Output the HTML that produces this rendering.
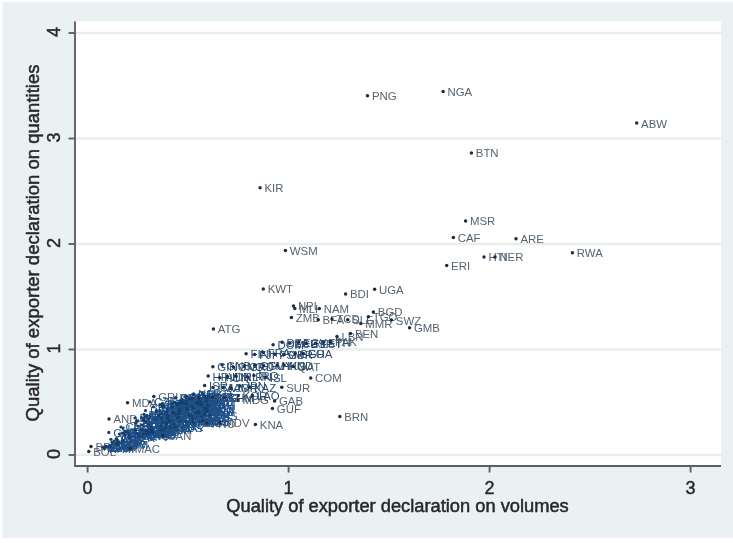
<!DOCTYPE html>
<html><head><meta charset="utf-8"><style>
html,body{margin:0;padding:0;background:#fff;}
svg{display:block;font-family:"Liberation Sans",sans-serif;filter:blur(0.55px);}
</style></head><body>
<svg width="733" height="543" viewBox="0 0 733 543">
<rect x="0" y="0" width="733" height="543" fill="#ffffff"/><rect x="2.5" y="2" width="730.5" height="536" fill="#e9f1f2"/><rect x="75" y="21.5" width="646" height="444.5" fill="#ffffff"/><line x1="75" x2="721" y1="455.0" y2="455.0" stroke="#e9eeed" stroke-width="2.4"/><line x1="75" x2="721" y1="349.5" y2="349.5" stroke="#e9eeed" stroke-width="2.4"/><line x1="75" x2="721" y1="244.0" y2="244.0" stroke="#e9eeed" stroke-width="2.4"/><line x1="75" x2="721" y1="138.5" y2="138.5" stroke="#e9eeed" stroke-width="2.4"/><line x1="75" x2="721" y1="33.0" y2="33.0" stroke="#e9eeed" stroke-width="2.4"/><line x1="75" x2="75" y1="21.5" y2="466.5" stroke="#5c6062" stroke-width="1.9"/><line x1="74.2" x2="721" y1="466" y2="466" stroke="#5c6062" stroke-width="1.9"/><line x1="68.5" x2="75" y1="455.0" y2="455.0" stroke="#5c6062" stroke-width="1.9"/><text x="60.3" y="454.1" transform="rotate(-90 60.3 454.1)" text-anchor="middle" font-size="18" fill="#2a2a2a" stroke="#2a2a2a" stroke-width="0.45">0</text><line x1="68.5" x2="75" y1="349.5" y2="349.5" stroke="#5c6062" stroke-width="1.9"/><text x="60.3" y="348.6" transform="rotate(-90 60.3 348.6)" text-anchor="middle" font-size="18" fill="#2a2a2a" stroke="#2a2a2a" stroke-width="0.45">1</text><line x1="68.5" x2="75" y1="244.0" y2="244.0" stroke="#5c6062" stroke-width="1.9"/><text x="60.3" y="243.1" transform="rotate(-90 60.3 243.1)" text-anchor="middle" font-size="18" fill="#2a2a2a" stroke="#2a2a2a" stroke-width="0.45">2</text><line x1="68.5" x2="75" y1="138.5" y2="138.5" stroke="#5c6062" stroke-width="1.9"/><text x="60.3" y="137.6" transform="rotate(-90 60.3 137.6)" text-anchor="middle" font-size="18" fill="#2a2a2a" stroke="#2a2a2a" stroke-width="0.45">3</text><line x1="68.5" x2="75" y1="33.0" y2="33.0" stroke="#5c6062" stroke-width="1.9"/><text x="60.3" y="32.1" transform="rotate(-90 60.3 32.1)" text-anchor="middle" font-size="18" fill="#2a2a2a" stroke="#2a2a2a" stroke-width="0.45">4</text><line x1="87.6" x2="87.6" y1="466" y2="472.5" stroke="#5c6062" stroke-width="1.9"/><text x="87.6" y="494.3" text-anchor="middle" font-size="18" fill="#2a2a2a" stroke="#2a2a2a" stroke-width="0.45">0</text><line x1="288.6" x2="288.6" y1="466" y2="472.5" stroke="#5c6062" stroke-width="1.9"/><text x="288.6" y="494.3" text-anchor="middle" font-size="18" fill="#2a2a2a" stroke="#2a2a2a" stroke-width="0.45">1</text><line x1="489.6" x2="489.6" y1="466" y2="472.5" stroke="#5c6062" stroke-width="1.9"/><text x="489.6" y="494.3" text-anchor="middle" font-size="18" fill="#2a2a2a" stroke="#2a2a2a" stroke-width="0.45">2</text><line x1="690.6" x2="690.6" y1="466" y2="472.5" stroke="#5c6062" stroke-width="1.9"/><text x="690.6" y="494.3" text-anchor="middle" font-size="18" fill="#2a2a2a" stroke="#2a2a2a" stroke-width="0.45">3</text><text x="397.5" y="511.8" text-anchor="middle" font-size="18.3" fill="#282828" stroke="#282828" stroke-width="0.5">Quality of exporter declaration on volumes</text><text x="39.3" y="243" transform="rotate(-90 39.3 243)" text-anchor="middle" font-size="18.5" fill="#282828" stroke="#282828" stroke-width="0.5">Quality of exporter declaration on quantities</text><g font-size="11.4" fill="#55636f"><text x="641.1" y="127.5">ABW</text><text x="371.9" y="100.2">PNG</text><text x="447.5" y="96.0">NGA</text><text x="475.8" y="157.4">BTN</text><text x="264.5" y="192.1">KIR</text><text x="289.8" y="254.9">WSM</text><text x="470.0" y="225.3">MSR</text><text x="457.7" y="242.0">CAF</text><text x="520.4" y="243.2">ARE</text><text x="576.8" y="257.2">RWA</text><text x="451.1" y="270.0">ERI</text><text x="488.4" y="261.3">HTI</text><text x="499.4" y="261.3">NER</text><text x="267.7" y="293.4">KWT</text><text x="350.0" y="298.3">BDI</text><text x="379.0" y="293.6">UGA</text><text x="297.9" y="310.3">NPL</text><text x="299.2" y="312.9">MLI</text><text x="323.7" y="312.9">NAM</text><text x="295.8" y="321.9">ZMB</text><text x="322.6" y="324.1">BFA</text><text x="336.4" y="323.4">TCD</text><text x="352.1" y="324.1">SLE</text><text x="365.2" y="327.8">MMR</text><text x="372.8" y="321.2">TGO</text><text x="377.8" y="316.4">BGD</text><text x="395.8" y="324.5">SWZ</text><text x="413.9" y="332.2">GMB</text><text x="217.8" y="333.3">ATG</text><text x="334.9" y="346.4">PAK</text><text x="341.4" y="340.9">LBN</text><text x="354.9" y="337.9">BEN</text><text x="344.2" y="421.0">BRN</text><text x="297.6" y="371.0">QAT</text><text x="315.1" y="382.3">COM</text><text x="286.2" y="391.7">SUR</text><text x="279.0" y="405.4">GAB</text><text x="276.8" y="412.9">GUF</text><text x="259.8" y="428.8">KNA</text><text x="224.2" y="426.9">MDV</text><text x="211.4" y="427.7">FRO</text><text x="242.4" y="404.4">MDG</text><text x="167.4" y="440.1">CAN</text><text x="134.7" y="453.0">MAC</text><text x="131.9" y="407.2">MDA</text><text x="158.2" y="400.8">GRL</text><text x="113.4" y="423.4">AND</text><text x="93.2" y="455.8">BOL</text><text x="95.4" y="450.8">BRB</text></g><g font-size="11.4" fill="#1f5088"><text x="152.0" y="438.5">AFG</text><text x="153.5" y="429.1">AGO</text><text x="121.5" y="445.1">ARG</text><text x="190.8" y="407.5">ARM</text><text x="179.5" y="431.6">AUS</text><text x="210.4" y="413.0">AUT</text><text x="118.4" y="445.6">AZE</text><text x="107.2" y="451.5">BEL</text><text x="159.6" y="423.9">BGR</text><text x="175.9" y="411.4">BHR</text><text x="214.1" y="419.6">BHS</text><text x="181.1" y="408.1">BIH</text><text x="133.4" y="441.9">BLR</text><text x="197.0" y="402.7">BLZ</text><text x="204.2" y="426.4">BMU</text><text x="145.7" y="434.0">BRN</text><text x="189.2" y="401.2">CHE</text><text x="186.8" y="406.9">CHL</text><text x="111.9" y="451.3">CHN</text><text x="120.7" y="443.2">CIV</text><text x="115.3" y="443.7">CMR</text><text x="148.4" y="424.2">COD</text><text x="211.1" y="402.4">COG</text><text x="201.3" y="407.6">COL</text><text x="197.8" y="399.0">CPV</text><text x="213.2" y="400.5">CRI</text><text x="188.5" y="407.9">CUB</text><text x="108.8" y="451.6">CYP</text><text x="128.1" y="437.5">CZE</text><text x="155.5" y="435.7">DEU</text><text x="121.2" y="449.0">DJI</text><text x="193.6" y="403.1">DMA</text><text x="184.7" y="406.0">DNK</text><text x="208.7" y="412.9">DOM</text><text x="148.4" y="418.7">DZA</text><text x="210.1" y="416.0">ECU</text><text x="168.4" y="411.2">EGY</text><text x="182.5" y="407.6">ESP</text><text x="170.4" y="432.1">EST</text><text x="123.7" y="438.4">ETH</text><text x="151.2" y="420.0">FIN</text><text x="142.4" y="425.3">FJI</text><text x="212.2" y="415.1">FRA</text><text x="167.0" y="407.7">FSM</text><text x="180.3" y="402.0">GBR</text><text x="172.9" y="425.8">GEO</text><text x="109.0" y="452.2">GHA</text><text x="203.0" y="417.4">GIN</text><text x="190.8" y="409.0">GNB</text><text x="178.5" y="428.5">GNQ</text><text x="148.0" y="438.4">GRD</text><text x="165.7" y="418.2">GTM</text><text x="166.8" y="409.1">GUY</text><text x="200.7" y="407.6">HKG</text><text x="184.2" y="413.7">HND</text><text x="196.0" y="420.4">HRV</text><text x="155.2" y="431.3">HUN</text><text x="157.1" y="436.6">IDN</text><text x="129.6" y="435.5">IRL</text><text x="177.7" y="407.4">IRN</text><text x="203.7" y="408.6">IRQ</text><text x="202.1" y="416.4">ISL</text><text x="123.0" y="446.8">ISR</text><text x="204.6" y="406.4">ITA</text><text x="166.9" y="410.7">JAM</text><text x="197.2" y="426.6">JOR</text><text x="132.0" y="436.9">JPN</text><text x="131.8" y="436.4">KAZ</text><text x="171.7" y="414.0">KEN</text><text x="196.1" y="410.8">KGZ</text><text x="108.9" y="452.8">KHM</text><text x="165.4" y="430.1">KOR</text><text x="152.3" y="436.0">LAO</text><text x="127.5" y="432.5">LBN</text><text x="172.1" y="423.1">LBY</text><text x="175.1" y="432.0">LCA</text><text x="178.4" y="416.5">LKA</text><text x="120.8" y="443.4">LSO</text><text x="181.8" y="409.2">LTU</text><text x="139.8" y="434.5">LUX</text><text x="170.4" y="416.8">LVA</text><text x="190.7" y="400.7">MAR</text><text x="206.7" y="397.5">MKD</text><text x="152.1" y="438.1">MLT</text><text x="143.4" y="440.4">MNG</text><text x="191.2" y="412.4">MOZ</text><text x="174.7" y="425.1">MRT</text><text x="193.7" y="419.8">MUS</text><text x="212.2" y="410.0">MWI</text><text x="190.5" y="426.6">MYS</text><text x="198.0" y="398.3">NCL</text><text x="150.7" y="435.0">NIC</text><text x="156.0" y="434.0">NLD</text><text x="120.1" y="447.8">NOR</text><text x="116.4" y="446.7">NZL</text><text x="182.9" y="421.7">OMN</text><text x="208.2" y="424.6">PER</text><text x="110.2" y="450.5">PHL</text><text x="133.5" y="439.5">POL</text><text x="164.2" y="418.7">PRT</text><text x="196.8" y="402.8">PRY</text><text x="197.4" y="412.8">PYF</text><text x="165.7" y="422.7">ROU</text><text x="157.8" y="411.2">RUS</text><text x="210.9" y="405.7">SAU</text><text x="191.7" y="413.1">SDN</text><text x="179.2" y="418.2">SEN</text><text x="205.7" y="409.2">SGP</text><text x="114.9" y="450.2">SLB</text><text x="203.1" y="404.6">SLV</text><text x="122.2" y="448.9">SOM</text><text x="126.3" y="437.6">SRB</text><text x="140.9" y="425.6">STP</text><text x="183.7" y="416.0">SVK</text><text x="129.0" y="439.7">SVN</text><text x="150.2" y="426.5">SWE</text><text x="160.7" y="415.0">SYC</text><text x="172.4" y="420.1">SYR</text><text x="197.4" y="423.6">THA</text><text x="126.9" y="445.2">TJK</text><text x="140.3" y="427.7">TKM</text><text x="166.9" y="426.5">TTO</text><text x="149.1" y="421.4">TUN</text><text x="155.6" y="432.5">TUR</text><text x="149.7" y="434.6">TZA</text><text x="185.8" y="405.3">UKR</text><text x="176.9" y="416.8">URY</text><text x="168.3" y="434.3">USA</text><text x="145.9" y="422.0">UZB</text><text x="205.2" y="407.7">VCT</text><text x="153.3" y="423.5">VUT</text><text x="164.9" y="434.3">YEM</text><text x="154.1" y="420.2">ZAF</text><text x="180.3" y="418.5">ZWE</text><text x="206.2" y="421.0">AFG</text><text x="164.3" y="414.9">AGO</text><text x="197.9" y="427.0">ARG</text><text x="141.5" y="438.0">ARM</text><text x="200.2" y="416.4">AUS</text><text x="154.7" y="433.9">AUT</text><text x="190.5" y="405.4">AZE</text><text x="184.3" y="408.1">BEL</text><text x="142.3" y="430.5">BGR</text><text x="162.8" y="420.5">BHR</text><text x="184.7" y="425.4">BHS</text><text x="206.7" y="425.1">BIH</text><text x="208.9" y="418.8">BLR</text><text x="160.8" y="415.5">BLZ</text><text x="183.1" y="417.7">BMU</text><text x="186.6" y="403.8">BRN</text><text x="152.9" y="437.5">CHE</text><text x="181.5" y="422.3">CHL</text><text x="146.1" y="429.4">CHN</text><text x="203.1" y="415.7">CIV</text><text x="208.8" y="400.6">CMR</text><text x="171.2" y="428.1">COD</text><text x="170.5" y="428.1">COG</text><text x="178.7" y="407.0">COL</text><text x="146.3" y="440.9">CPV</text><text x="147.8" y="424.1">CRI</text><text x="125.4" y="431.4">CUB</text><text x="113.2" y="436.8">CYP</text><text x="154.3" y="406.2">CZE</text><text x="149.9" y="415.0">DEU</text><text x="139.4" y="422.4">DJI</text><text x="164.4" y="409.4">DMA</text><text x="179.4" y="402.4">DNK</text></g><g font-size="11.4" fill="#2b4d72"><text x="277.5" y="349.1">DOM</text><text x="286.5" y="346.6">DZA</text><text x="294.2" y="347.6">ECU</text><text x="303.1" y="346.7">EGY</text><text x="310.5" y="347.6">ESP</text><text x="319.8" y="347.7">EST</text><text x="328.0" y="346.6">ETH</text><text x="250.5" y="358.1">FIN</text><text x="259.0" y="359.0">FJI</text><text x="267.7" y="357.0">FRA</text><text x="279.3" y="358.6">FSM</text><text x="288.2" y="358.7">GBR</text><text x="299.3" y="357.9">GEO</text><text x="307.7" y="357.9">GHA</text><text x="217.3" y="371.2">GIN</text><text x="226.5" y="369.5">GNB</text><text x="237.8" y="371.4">GNQ</text><text x="248.9" y="370.5">GRD</text><text x="259.6" y="369.7">GTM</text><text x="267.8" y="370.2">GUY</text><text x="281.5" y="369.8">HKG</text><text x="288.5" y="369.5">HND</text><text x="212.6" y="380.5">HRV</text><text x="224.2" y="382.2">HUN</text><text x="231.9" y="380.8">IDN</text><text x="240.6" y="380.6">IRL</text><text x="252.0" y="381.3">IRN</text><text x="258.3" y="380.0">IRQ</text><text x="269.8" y="381.8">ISL</text><text x="209.0" y="389.9">ISR</text><text x="217.4" y="392.0">ITA</text><text x="227.5" y="392.0">JAM</text><text x="235.1" y="392.1">JOR</text><text x="244.4" y="390.4">JPN</text><text x="254.0" y="391.6">KAZ</text><text x="203.3" y="401.8">KEN</text><text x="216.9" y="401.7">KGZ</text><text x="228.6" y="401.9">KHM</text><text x="242.6" y="399.9">KOR</text><text x="256.8" y="400.0">LAO</text></g><g fill="#222c3a"><circle cx="636.7" cy="123.1" r="1.75"/><circle cx="367.5" cy="95.8" r="1.75"/><circle cx="443.1" cy="91.6" r="1.75"/><circle cx="471.4" cy="153.0" r="1.75"/><circle cx="260.1" cy="187.7" r="1.75"/><circle cx="285.4" cy="250.5" r="1.75"/><circle cx="465.6" cy="220.9" r="1.75"/><circle cx="453.3" cy="237.6" r="1.75"/><circle cx="516.0" cy="238.8" r="1.75"/><circle cx="572.4" cy="252.8" r="1.75"/><circle cx="446.7" cy="265.6" r="1.75"/><circle cx="484.0" cy="256.9" r="1.75"/><circle cx="495.0" cy="256.9" r="1.75"/><circle cx="263.3" cy="289.0" r="1.75"/><circle cx="345.6" cy="293.9" r="1.75"/><circle cx="374.6" cy="289.2" r="1.75"/><circle cx="293.5" cy="305.9" r="1.75"/><circle cx="294.8" cy="308.5" r="1.75"/><circle cx="319.3" cy="308.5" r="1.75"/><circle cx="291.4" cy="317.5" r="1.75"/><circle cx="318.2" cy="319.7" r="1.75"/><circle cx="332.0" cy="319.0" r="1.75"/><circle cx="347.7" cy="319.7" r="1.75"/><circle cx="360.8" cy="323.4" r="1.75"/><circle cx="368.4" cy="316.8" r="1.75"/><circle cx="373.4" cy="312.0" r="1.75"/><circle cx="391.4" cy="320.1" r="1.75"/><circle cx="409.5" cy="327.8" r="1.75"/><circle cx="213.4" cy="328.9" r="1.75"/><circle cx="330.5" cy="342.0" r="1.75"/><circle cx="337.0" cy="336.5" r="1.75"/><circle cx="350.5" cy="333.5" r="1.75"/><circle cx="339.8" cy="416.6" r="1.75"/><circle cx="293.2" cy="366.6" r="1.75"/><circle cx="310.7" cy="377.9" r="1.75"/><circle cx="281.8" cy="387.3" r="1.75"/><circle cx="274.6" cy="401.0" r="1.75"/><circle cx="272.4" cy="408.5" r="1.75"/><circle cx="255.4" cy="424.4" r="1.75"/><circle cx="219.8" cy="422.5" r="1.75"/><circle cx="207.0" cy="423.3" r="1.75"/><circle cx="238.0" cy="400.0" r="1.75"/><circle cx="163.0" cy="435.7" r="1.75"/><circle cx="130.3" cy="448.6" r="1.75"/><circle cx="127.5" cy="402.8" r="1.75"/><circle cx="153.8" cy="396.4" r="1.75"/><circle cx="109.0" cy="419.0" r="1.75"/><circle cx="88.8" cy="451.4" r="1.75"/><circle cx="91.0" cy="446.4" r="1.75"/></g><g fill="#143f6e"><circle cx="147.6" cy="434.1" r="1.6"/><circle cx="149.1" cy="424.7" r="1.6"/><circle cx="117.1" cy="440.7" r="1.6"/><circle cx="186.4" cy="403.1" r="1.6"/><circle cx="175.1" cy="427.2" r="1.6"/><circle cx="206.0" cy="408.6" r="1.6"/><circle cx="114.0" cy="441.2" r="1.6"/><circle cx="102.8" cy="447.1" r="1.6"/><circle cx="155.2" cy="419.5" r="1.6"/><circle cx="171.5" cy="407.0" r="1.6"/><circle cx="209.7" cy="415.2" r="1.6"/><circle cx="176.7" cy="403.7" r="1.6"/><circle cx="129.0" cy="437.5" r="1.6"/><circle cx="192.6" cy="398.3" r="1.6"/><circle cx="199.8" cy="422.0" r="1.6"/><circle cx="141.3" cy="429.6" r="1.6"/><circle cx="184.8" cy="396.8" r="1.6"/><circle cx="182.4" cy="402.5" r="1.6"/><circle cx="107.5" cy="446.9" r="1.6"/><circle cx="116.3" cy="438.8" r="1.6"/><circle cx="110.9" cy="439.3" r="1.6"/><circle cx="144.0" cy="419.8" r="1.6"/><circle cx="206.7" cy="398.0" r="1.6"/><circle cx="196.9" cy="403.2" r="1.6"/><circle cx="193.4" cy="394.6" r="1.6"/><circle cx="208.8" cy="396.1" r="1.6"/><circle cx="184.1" cy="403.5" r="1.6"/><circle cx="104.4" cy="447.2" r="1.6"/><circle cx="123.7" cy="433.1" r="1.6"/><circle cx="151.1" cy="431.3" r="1.6"/><circle cx="116.8" cy="444.6" r="1.6"/><circle cx="189.2" cy="398.7" r="1.6"/><circle cx="180.3" cy="401.6" r="1.6"/><circle cx="204.3" cy="408.5" r="1.6"/><circle cx="144.0" cy="414.3" r="1.6"/><circle cx="205.7" cy="411.6" r="1.6"/><circle cx="164.0" cy="406.8" r="1.6"/><circle cx="178.1" cy="403.2" r="1.6"/><circle cx="166.0" cy="427.7" r="1.6"/><circle cx="119.3" cy="434.0" r="1.6"/><circle cx="146.8" cy="415.6" r="1.6"/><circle cx="138.0" cy="420.9" r="1.6"/><circle cx="207.8" cy="410.7" r="1.6"/><circle cx="162.6" cy="403.3" r="1.6"/><circle cx="175.9" cy="397.6" r="1.6"/><circle cx="168.5" cy="421.4" r="1.6"/><circle cx="104.6" cy="447.8" r="1.6"/><circle cx="198.6" cy="413.0" r="1.6"/><circle cx="186.4" cy="404.6" r="1.6"/><circle cx="174.1" cy="424.1" r="1.6"/><circle cx="143.6" cy="434.0" r="1.6"/><circle cx="161.3" cy="413.8" r="1.6"/><circle cx="162.4" cy="404.7" r="1.6"/><circle cx="196.3" cy="403.2" r="1.6"/><circle cx="179.8" cy="409.3" r="1.6"/><circle cx="191.6" cy="416.0" r="1.6"/><circle cx="150.8" cy="426.9" r="1.6"/><circle cx="152.7" cy="432.2" r="1.6"/><circle cx="125.2" cy="431.1" r="1.6"/><circle cx="173.3" cy="403.0" r="1.6"/><circle cx="199.3" cy="404.2" r="1.6"/><circle cx="197.7" cy="412.0" r="1.6"/><circle cx="118.6" cy="442.4" r="1.6"/><circle cx="200.2" cy="402.0" r="1.6"/><circle cx="162.5" cy="406.3" r="1.6"/><circle cx="192.8" cy="422.2" r="1.6"/><circle cx="127.6" cy="432.5" r="1.6"/><circle cx="127.4" cy="432.0" r="1.6"/><circle cx="167.3" cy="409.6" r="1.6"/><circle cx="191.7" cy="406.4" r="1.6"/><circle cx="104.5" cy="448.4" r="1.6"/><circle cx="161.0" cy="425.7" r="1.6"/><circle cx="147.9" cy="431.6" r="1.6"/><circle cx="123.1" cy="428.1" r="1.6"/><circle cx="167.7" cy="418.7" r="1.6"/><circle cx="170.7" cy="427.6" r="1.6"/><circle cx="174.0" cy="412.1" r="1.6"/><circle cx="116.4" cy="439.0" r="1.6"/><circle cx="177.4" cy="404.8" r="1.6"/><circle cx="135.4" cy="430.1" r="1.6"/><circle cx="166.0" cy="412.4" r="1.6"/><circle cx="186.3" cy="396.3" r="1.6"/><circle cx="202.3" cy="393.1" r="1.6"/><circle cx="147.7" cy="433.7" r="1.6"/><circle cx="139.0" cy="436.0" r="1.6"/><circle cx="186.8" cy="408.0" r="1.6"/><circle cx="170.3" cy="420.7" r="1.6"/><circle cx="189.3" cy="415.4" r="1.6"/><circle cx="207.8" cy="405.6" r="1.6"/><circle cx="186.1" cy="422.2" r="1.6"/><circle cx="193.6" cy="393.9" r="1.6"/><circle cx="146.3" cy="430.6" r="1.6"/><circle cx="151.6" cy="429.6" r="1.6"/><circle cx="115.7" cy="443.4" r="1.6"/><circle cx="112.0" cy="442.3" r="1.6"/><circle cx="178.5" cy="417.3" r="1.6"/><circle cx="203.8" cy="420.2" r="1.6"/><circle cx="105.8" cy="446.1" r="1.6"/><circle cx="129.1" cy="435.1" r="1.6"/><circle cx="159.8" cy="414.3" r="1.6"/><circle cx="192.4" cy="398.4" r="1.6"/><circle cx="193.0" cy="408.4" r="1.6"/><circle cx="161.3" cy="418.3" r="1.6"/><circle cx="153.4" cy="406.8" r="1.6"/><circle cx="206.5" cy="401.3" r="1.6"/><circle cx="187.3" cy="408.7" r="1.6"/><circle cx="174.8" cy="413.8" r="1.6"/><circle cx="201.3" cy="404.8" r="1.6"/><circle cx="110.5" cy="445.8" r="1.6"/><circle cx="198.7" cy="400.2" r="1.6"/><circle cx="117.8" cy="444.5" r="1.6"/><circle cx="121.9" cy="433.2" r="1.6"/><circle cx="136.5" cy="421.2" r="1.6"/><circle cx="179.3" cy="411.6" r="1.6"/><circle cx="124.6" cy="435.3" r="1.6"/><circle cx="145.8" cy="422.1" r="1.6"/><circle cx="156.3" cy="410.6" r="1.6"/><circle cx="168.0" cy="415.7" r="1.6"/><circle cx="193.0" cy="419.2" r="1.6"/><circle cx="122.5" cy="440.8" r="1.6"/><circle cx="135.9" cy="423.3" r="1.6"/><circle cx="162.5" cy="422.1" r="1.6"/><circle cx="144.7" cy="417.0" r="1.6"/><circle cx="151.2" cy="428.1" r="1.6"/><circle cx="145.3" cy="430.2" r="1.6"/><circle cx="181.4" cy="400.9" r="1.6"/><circle cx="172.5" cy="412.4" r="1.6"/><circle cx="163.9" cy="429.9" r="1.6"/><circle cx="141.5" cy="417.6" r="1.6"/><circle cx="200.8" cy="403.3" r="1.6"/><circle cx="148.9" cy="419.1" r="1.6"/><circle cx="160.5" cy="429.9" r="1.6"/><circle cx="149.7" cy="415.8" r="1.6"/><circle cx="175.9" cy="414.1" r="1.6"/><circle cx="201.8" cy="416.6" r="1.6"/><circle cx="159.9" cy="410.5" r="1.6"/><circle cx="193.5" cy="422.6" r="1.6"/><circle cx="137.1" cy="433.6" r="1.6"/><circle cx="195.8" cy="412.0" r="1.6"/><circle cx="150.3" cy="429.5" r="1.6"/><circle cx="186.1" cy="401.0" r="1.6"/><circle cx="179.9" cy="403.7" r="1.6"/><circle cx="137.9" cy="426.1" r="1.6"/><circle cx="158.4" cy="416.1" r="1.6"/><circle cx="180.3" cy="421.0" r="1.6"/><circle cx="202.3" cy="420.7" r="1.6"/><circle cx="204.5" cy="414.4" r="1.6"/><circle cx="156.4" cy="411.1" r="1.6"/><circle cx="178.7" cy="413.3" r="1.6"/><circle cx="182.2" cy="399.4" r="1.6"/><circle cx="148.5" cy="433.1" r="1.6"/><circle cx="177.1" cy="417.9" r="1.6"/><circle cx="141.7" cy="425.0" r="1.6"/><circle cx="198.7" cy="411.3" r="1.6"/><circle cx="204.4" cy="396.2" r="1.6"/><circle cx="166.8" cy="423.7" r="1.6"/><circle cx="166.1" cy="423.7" r="1.6"/><circle cx="174.3" cy="402.6" r="1.6"/><circle cx="141.9" cy="436.5" r="1.6"/><circle cx="143.4" cy="419.7" r="1.6"/><circle cx="121.0" cy="427.0" r="1.6"/><circle cx="108.8" cy="432.4" r="1.6"/><circle cx="149.9" cy="401.8" r="1.6"/><circle cx="145.5" cy="410.6" r="1.6"/><circle cx="135.0" cy="418.0" r="1.6"/><circle cx="160.0" cy="405.0" r="1.6"/><circle cx="175.0" cy="398.0" r="1.6"/></g><g fill="#1c3350"><circle cx="273.1" cy="344.7" r="1.75"/><circle cx="282.1" cy="342.2" r="1.75"/><circle cx="289.8" cy="343.2" r="1.75"/><circle cx="298.7" cy="342.3" r="1.75"/><circle cx="306.1" cy="343.2" r="1.75"/><circle cx="315.4" cy="343.3" r="1.75"/><circle cx="323.6" cy="342.2" r="1.75"/><circle cx="246.1" cy="353.7" r="1.75"/><circle cx="254.6" cy="354.6" r="1.75"/><circle cx="263.3" cy="352.6" r="1.75"/><circle cx="274.9" cy="354.2" r="1.75"/><circle cx="283.8" cy="354.3" r="1.75"/><circle cx="294.9" cy="353.5" r="1.75"/><circle cx="303.3" cy="353.5" r="1.75"/><circle cx="212.9" cy="366.8" r="1.75"/><circle cx="222.1" cy="365.1" r="1.75"/><circle cx="233.4" cy="367.0" r="1.75"/><circle cx="244.5" cy="366.1" r="1.75"/><circle cx="255.2" cy="365.3" r="1.75"/><circle cx="263.4" cy="365.8" r="1.75"/><circle cx="277.1" cy="365.4" r="1.75"/><circle cx="284.1" cy="365.1" r="1.75"/><circle cx="208.2" cy="376.1" r="1.75"/><circle cx="219.8" cy="377.8" r="1.75"/><circle cx="227.5" cy="376.4" r="1.75"/><circle cx="236.2" cy="376.2" r="1.75"/><circle cx="247.6" cy="376.9" r="1.75"/><circle cx="253.9" cy="375.6" r="1.75"/><circle cx="265.4" cy="377.4" r="1.75"/><circle cx="204.6" cy="385.5" r="1.75"/><circle cx="213.0" cy="387.6" r="1.75"/><circle cx="223.1" cy="387.6" r="1.75"/><circle cx="230.7" cy="387.7" r="1.75"/><circle cx="240.0" cy="386.0" r="1.75"/><circle cx="249.6" cy="387.2" r="1.75"/><circle cx="198.9" cy="397.4" r="1.75"/><circle cx="212.5" cy="397.3" r="1.75"/><circle cx="224.2" cy="397.5" r="1.75"/><circle cx="238.2" cy="395.5" r="1.75"/><circle cx="252.4" cy="395.6" r="1.75"/></g>
</svg></body></html>
